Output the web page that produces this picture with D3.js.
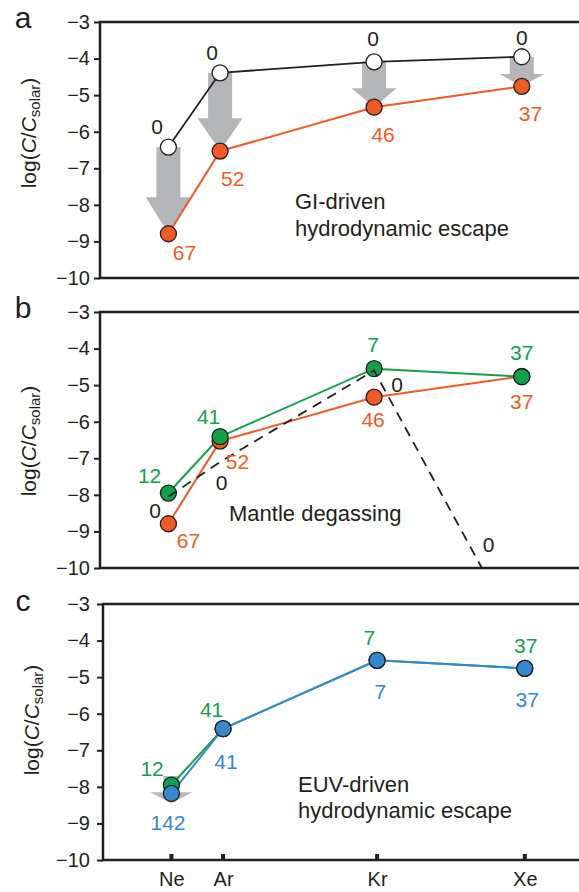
<!DOCTYPE html>
<html>
<head>
<meta charset="utf-8">
<script src="https://cdn.jsdelivr.net/npm/d3@7"></script>
<style>
  html, body { margin: 0; padding: 0; background: #fff; }
  svg { display: block; font-family: "Liberation Sans", Arial, Helvetica, sans-serif; }
</style>
</head>
<body>
<svg id="chart" width="579" height="892"></svg>
<script>
// ---- data ----
const elements = ["Ne", "Ar", "Kr", "Xe"];
const yTicks = [-3, -4, -5, -6, -7, -8, -9, -10];

// a: giant-impact driven hydrodynamic escape
const giInitial = [-6.42, -4.39, -4.09, -3.95];
const giInitialLabels = ["0", "0", "0", "0"];
const giFinal = [-8.79, -6.53, -5.33, -4.76];
const giFinalLabels = ["67", "52", "46", "37"];

// b: mantle degassing
const degasFinal = [-8.79, -6.53, -5.33, -4.76];
const degasFinalLabels = ["67", "52", "46", "37"];
const degasGreen = [-7.95, -6.41, -4.55, -4.77];
const degasGreenLabels = ["12", "41", "7", "37"];
const degasMantle = [-8.05, -7.1, -4.6, -12.0];
const degasMantleLabels = ["0", "0", "0", "0"];

// c: EUV-driven hydrodynamic escape
const euvGreen = [-7.95, -6.41, -4.54, -4.76];
const euvGreenLabels = ["12", "41", "7", "37"];
const euvBlue = [-8.18, -6.41, -4.54, -4.76];
const euvBlueLabels = ["142", "41", "7", "37"];
const euvArrow = [-7.7, -8.45];

// ---- styling ----
const INK = "#231f20";
const ORANGE = "#f15a24";
const GREEN = "#11a14b";
const BLUE = "#3388cf";
const GRAY = "#b4b5b7";

const svg = d3.select("#chart");

const panels = [
  { key: "a", top: 22, bottom: 278, dx: 0, letterBase: 27.5, ylab: 133 },
  { key: "b", top: 312, bottom: 568, dx: 0, letterBase: 317.5, ylab: 441 },
  { key: "c", top: 604, bottom: 860, dx: 3, letterBase: 611, ylab: 720 }
];

const AXIS_X = 100;
const xBase = d3.scaleOrdinal().domain(elements).range([168.4, 220.1, 374.1, 521.8]);

function setup(p) {
  const g = svg.append("g").attr("transform", `translate(${p.dx},0)`);
  const y = d3.scaleLinear().domain([-10, -3]).range([p.bottom, p.top]);
  const x = e => xBase(e);

  // clip region for marks that leave the plotting area
  g.append("clipPath").attr("id", "clip-" + p.key)
    .append("rect").attr("x", AXIS_X).attr("y", p.top).attr("width", 600).attr("height", p.bottom - p.top);

  // frame
  g.append("rect")
    .attr("x", AXIS_X).attr("y", p.top)
    .attr("width", 520).attr("height", p.bottom - p.top)
    .attr("fill", "none").attr("stroke", INK).attr("stroke-width", 2.5);

  // y axis
  const yAxis = d3.axisLeft(y).tickValues(yTicks).tickSize(6).tickPadding(4)
    .tickFormat(d => String(d).replace("-", "\u2212"));
  const ax = svg.append("g").attr("transform", `translate(${AXIS_X + p.dx},0)`).call(yAxis);
  ax.select(".domain").remove();
  ax.selectAll(".tick line").attr("stroke", INK).attr("stroke-width", 2);
  ax.selectAll(".tick text")
    .attr("font-size", 20).attr("fill", INK)
    .attr("font-family", "'Liberation Sans', Arial, sans-serif")
    .attr("x", -10 - p.dx);

  // panel letter
  svg.append("text").attr("x", 23).attr("y", p.letterBase)
    .attr("text-anchor", "middle").attr("font-size", 30).attr("fill", INK)
    .text(p.key);

  // y label: log(C/C_solar)
  const yl = svg.append("text")
    .attr("transform", `translate(${36 + p.dx},${p.ylab}) rotate(-90)`)
    .attr("text-anchor", "middle").attr("font-size", 21).attr("fill", INK);
  yl.append("tspan").text("log(");
  yl.append("tspan").attr("font-style", "italic").text("C");
  yl.append("tspan").text("/");
  yl.append("tspan").attr("font-style", "italic").text("C");
  yl.append("tspan").attr("font-size", 15).attr("dy", 4).text("solar");
  yl.append("tspan").attr("dy", -4).text(")");

  return { g, x, y };
}

function series(ctx, values, color, opts = {}) {
  const pts = elements.map((e, i) => [ctx.x(e), ctx.y(values[i])]);
  const line = d3.line();
  const path = ctx.g.append("path")
    .attr("d", line(pts))
    .attr("fill", "none")
    .attr("stroke", opts.stroke || color)
    .attr("stroke-width", opts.width || 2);
  if (opts.dash) path.attr("stroke-dasharray", opts.dash);
  if (opts.clip) path.attr("clip-path", `url(#clip-${opts.clip})`);
  return pts;
}

function dots(ctx, values, fill) {
  ctx.g.append("g").selectAll("circle")
    .data(elements)
    .join("circle")
    .attr("cx", e => ctx.x(e))
    .attr("cy", (e, i) => ctx.y(values[i]))
    .attr("r", 8)
    .attr("fill", fill)
    .attr("stroke", INK)
    .attr("stroke-width", 1.3);
}

function labels(ctx, values, texts, color, offsets, size = 21) {
  ctx.g.append("g").selectAll("text")
    .data(elements)
    .join("text")
    .attr("x", (e, i) => ctx.x(e) + offsets[i][0])
    .attr("y", (e, i) => ctx.y(values[i]) + offsets[i][1] + 0.36 * size)
    .attr("text-anchor", "middle")
    .attr("font-size", size)
    .attr("fill", color)
    .text((e, i) => texts[i]);
}

function arrow(ctx, xc, y0, y1, shaftHalf, headHalf, headH) {
  const p = d3.path();
  p.moveTo(xc - shaftHalf, y0);
  p.lineTo(xc + shaftHalf, y0);
  p.lineTo(xc + shaftHalf, y1 - headH);
  p.lineTo(xc + headHalf, y1 - headH);
  p.lineTo(xc, y1);
  p.lineTo(xc - headHalf, y1 - headH);
  p.lineTo(xc - shaftHalf, y1 - headH);
  p.closePath();
  ctx.g.append("path").attr("d", p.toString()).attr("fill", GRAY);
}

function annotation(ctx, x, lines, yCenters) {
  lines.forEach((t, i) => {
    ctx.g.append("text").attr("x", x).attr("y", yCenters[i] + 0.36 * 22)
      .attr("font-size", 22).attr("fill", INK).text(t);
  });
}

// ---- panel a ----
{
  const c = setup(panels[0]);
  elements.forEach((e, i) => {
    const y0 = c.y(giInitial[i]), y1 = c.y(giFinal[i]);
    arrow(c, c.x(e), y0, y1, 12, 22.5, 0.42 * (y1 - y0));
  });
  series(c, giInitial, INK, { width: 1.8 });
  series(c, giFinal, ORANGE, { width: 2 });
  dots(c, giInitial, "#ffffff");
  dots(c, giFinal, ORANGE);
  labels(c, giInitial, giInitialLabels, INK, [[-11.4, -21], [-8, -20], [-1, -23], [0, -19]]);
  labels(c, giFinal, giFinalLabels, ORANGE, [[16, 19], [12.6, 27.5], [9, 27], [8.6, 27]]);
  annotation(c, 295, ["GI-driven", "hydrodynamic escape"], [201, 228]);
}

// ---- panel b ----
{
  const c = setup(panels[1]);
  series(c, degasFinal, ORANGE, { width: 2 });
  series(c, degasGreen, GREEN, { width: 2 });
  dots(c, degasFinal, ORANGE);
  dots(c, degasGreen, GREEN);
  series(c, degasMantle, INK, { width: 1.8, dash: "10,7", clip: "b" });
  labels(c, degasGreen, degasGreenLabels, GREEN, [[-18.8, -18], [-11.5, -20.7], [-1, -24], [0, -24.2]]);
  labels(c, degasFinal, degasFinalLabels, ORANGE, [[20, 16.3], [17.3, 20.6], [-1, 22.7], [0, 25.3]]);
  labels(c, degasMantle, degasMantleLabels, INK, [[-13.4, 13.3], [1.5, 20.8], [23, 13.5], [-33.3, -96.5]]);
  annotation(c, 229, ["Mantle degassing"], [512.7]);
}

// ---- panel c ----
{
  const p = panels[2];
  const c = setup(p);
  arrow(c, c.x("Ne"), c.y(euvArrow[0]), c.y(euvArrow[1]), 8, 21, 11);
  series(c, euvGreen, GREEN, { width: 2 });
  series(c, euvBlue, BLUE, { width: 2 });
  dots(c, euvGreen, GREEN);
  dots(c, euvBlue, BLUE);
  labels(c, euvGreen, euvGreenLabels, GREEN, [[-19.3, -16.7], [-11.5, -19.4], [-7.8, -23], [1, -22.7]]);
  labels(c, euvBlue, euvBlueLabels, BLUE, [[-3.4, 29.3], [2.9, 32.3], [3.3, 31.4], [2.5, 30.6]]);
  annotation(c, 295, ["EUV-driven", "hydrodynamic escape"], [784, 810]);

  // bottom category axis with short inward ticks
  const xAxis = d3.axisBottom(xBase).tickSize(0).tickPadding(12);
  const ax = c.g.append("g").attr("transform", `translate(0,${p.bottom})`).call(xAxis);
  ax.select(".domain").remove();
  ax.selectAll(".tick text").attr("font-size", 20).attr("fill", INK)
    .attr("font-family", "'Liberation Sans', Arial, sans-serif");
  c.g.append("g").selectAll("rect")
    .data(elements).join("rect")
    .attr("x", e => xBase(e) - 2).attr("y", p.bottom - 6)
    .attr("width", 4).attr("height", 6).attr("fill", INK);
}
</script>
</body>
</html>
